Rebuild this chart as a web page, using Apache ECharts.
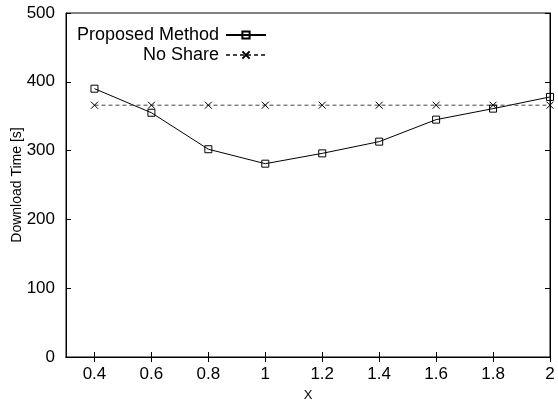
<!DOCTYPE html>
<html>
<head>
<meta charset="utf-8">
<script src="https://cdn.jsdelivr.net/npm/echarts@6/dist/echarts.min.js"></script>
<style>
  html, body { margin: 0; padding: 0; background: #fff; }
  #chart-container { width: 558px; height: 402px; }
</style>
</head>
<body>
<div id="chart-container"></div>
<script>
var xValues = [0.4, 0.6, 0.8, 1, 1.2, 1.4, 1.6, 1.8, 2];
var proposed = [390, 355, 302, 281, 296, 313, 345, 361, 378];
var noShare = [366, 366, 366, 366, 366, 366, 366, 366, 366];
var yTicks = [0, 100, 200, 300, 400, 500];

function pairs(ys) {
  return xValues.map(function (x, i) { return [x, ys[i]]; });
}

var font = "'Liberation Sans', Arial, sans-serif";
var dom = document.getElementById("chart-container");
var myChart = echarts.init(dom, null, { renderer: "canvas" });

var option = {
  animation: false,
  textStyle: { fontFamily: font, color: "#000" },
  grid: {
    left: 66, right: 8, top: 13, bottom: 45,
    containLabel: false, outerBoundsMode: "none",
    show: true, borderColor: "#000", borderWidth: 1
  },
  legend: [
    {
      data: ["Proposed Method"], right: 286, top: 21, align: "right",
      itemWidth: 40, itemHeight: 9, itemGap: 0,
      textStyle: { fontSize: 18, fontFamily: font, color: "#000", padding: [0, 2, 0, 0] }
    },
    {
      data: ["No Share"], right: 286, top: 41, align: "right",
      itemWidth: 40, itemHeight: 9, itemGap: 0,
      textStyle: { fontSize: 18, fontFamily: font, color: "#000", padding: [0, 2, 0, 0] }
    }
  ],
  xAxis: [
    {
      type: "value", min: 0.3, max: 2,
      name: "X", nameLocation: "middle", nameGap: 32, nameMoveOverlap: false,
      nameTextStyle: { fontSize: 13, fontFamily: font, color: "#000" },
      axisLine: { lineStyle: { color: "#000", width: 1 } },
      axisTick: { inside: true, length: 5, customValues: xValues, lineStyle: { color: "#000" } },
      axisLabel: { customValues: xValues, fontSize: 17, margin: 9, color: "#000", fontFamily: font },
      splitLine: { show: false }
    },
    {
      type: "value", min: 0.3, max: 2, position: "top",
      axisLine: { lineStyle: { color: "#000", width: 1 } },
      axisTick: { inside: true, length: 5, customValues: xValues, lineStyle: { color: "#000" } },
      axisLabel: { show: false },
      splitLine: { show: false }
    }
  ],
  yAxis: [
    {
      type: "value", min: 0, max: 500, interval: 100,
      name: "Download Time [s]", nameLocation: "middle", nameGap: 42, nameMoveOverlap: false,
      nameTextStyle: { fontSize: 14, fontFamily: font, color: "#000" },
      axisLine: { show: true, lineStyle: { color: "#000", width: 1 } },
      axisTick: { show: true, inside: true, length: 5, customValues: yTicks, lineStyle: { color: "#000" } },
      axisLabel: { fontSize: 17, margin: 11, color: "#000", fontFamily: font },
      splitLine: { show: false }
    },
    {
      type: "value", min: 0, max: 500, interval: 100, position: "right",
      axisLine: { show: true, lineStyle: { color: "#000", width: 1 } },
      axisTick: { show: true, inside: true, length: 5, lineStyle: { color: "#000" } },
      axisLabel: { show: false },
      splitLine: { show: false }
    }
  ],
  series: [
    {
      name: "Proposed Method",
      type: "line",
      data: pairs(proposed),
      symbol: "path://M0,0H10V10H0Z",
      symbolSize: 7,
      lineStyle: { color: "#000", width: 1 },
      itemStyle: { color: "rgba(255,255,255,0)", borderColor: "#000", borderWidth: 1 }
    },
    {
      name: "No Share",
      type: "line",
      data: pairs(noShare),
      symbol: "path://M0,0L10,10M10,0L0,10",
      symbolSize: 7,
      lineStyle: { color: "#444", width: 1, type: [4, 3] },
      itemStyle: { color: "#000", borderColor: "#000", borderWidth: 1 }
    }
  ]
};

myChart.setOption(option);
window.addEventListener("resize", myChart.resize);
</script>
</body>
</html>
